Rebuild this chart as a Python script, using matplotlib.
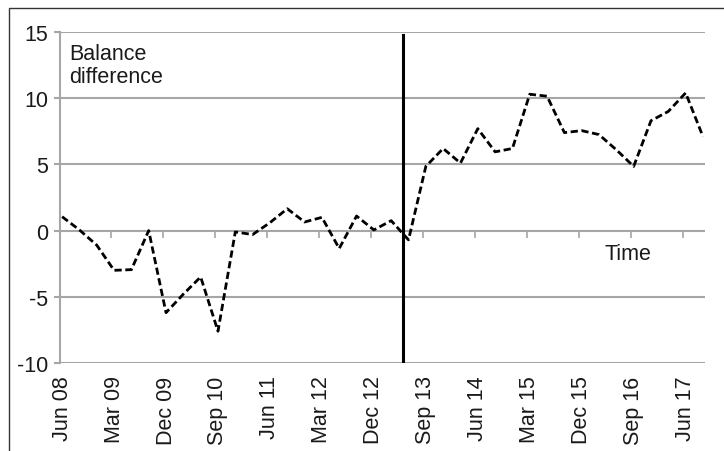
import matplotlib.pyplot as plt
from matplotlib.patches import Rectangle

plt.rcParams['font.family'] = ['Liberation Sans', 'DejaVu Sans']

# quarterly series, Jun 08 .. Sep 17
values = [1.05, 0.05, -1.1, -3.0, -2.95, 0.0, -6.2, -4.8, -3.5, -7.6,
          -0.1, -0.3, 0.6, 1.65, 0.65, 1.0, -1.35, 1.1, 0.05, 0.75,
          -0.7, 4.85, 6.2, 5.1, 7.7, 5.95, 6.2, 10.3, 10.15, 7.4,
          7.55, 7.25, 6.1, 4.85, 8.3, 9.0, 10.4, 7.1]
tick_labels = ["Jun 08", "Mar 09", "Dec 09", "Sep 10", "Jun 11", "Mar 12", "Dec 12",
               "Sep 13", "Jun 14", "Mar 15", "Dec 15", "Sep 16", "Jun 17"]
yticks = [-10, -5, 0, 5, 10, 15]
break_pos = 19.7  # vertical marker between Mar 13 and Jun 13

grid_col = "#a6a6a6"
text_col = "#1a1a1a"

fig = plt.figure(figsize=(7.24, 4.52), dpi=100)
ax = fig.add_axes([0.0829, 0.1947, 0.8909, 0.7323])

# outer frame
fig.patches.append(Rectangle((9 / 724, -0.1), 1.2, 1.1 - 9 / 452, transform=fig.transFigure,
                             fill=False, edgecolor="#333333", linewidth=1.0))

x = list(range(len(values)))
ax.set_xlim(-0.12, len(values) - 1 + 0.12)
ax.set_ylim(-10, 15)

# horizontal gridlines
for yv in yticks:
    ax.axhline(yv, color=grid_col, linewidth=1.5, zorder=1)

# small ticks on the zero line
minor = [3 * k - 0.15 for k in range(1, 13)]
ax.vlines(minor, -0.55, 0, color=grid_col, linewidth=1.2, zorder=1)

ax.plot(x, values, color="black", linewidth=2.0, linestyle=(0, (2.6, 1.3)), zorder=3)
ax.plot([break_pos, break_pos], [-10, 14.8], color="black", linewidth=2.2, zorder=4)

for s in ["top", "right", "bottom"]:
    ax.spines[s].set_visible(False)
ax.spines["left"].set_color(grid_col)
ax.spines["left"].set_linewidth(1.5)

ax.set_yticks(yticks, [str(v) for v in yticks])
ax.tick_params(axis="y", length=4.5, width=1.5, color=grid_col, pad=4, labelsize=15.5,
               labelcolor=text_col)
ax.set_xticks(list(range(0, 37, 3)), tick_labels, rotation=90)
ax.tick_params(axis="x", length=0, pad=9, labelsize=15.5, labelcolor=text_col)

ax.text(0.4, 14.2, "Balance\ndifference", fontsize=15.5, va="top", ha="left",
        linespacing=1.15, color=text_col)
ax.text(31.3, -1.7, "Time", fontsize=15.5, va="center", ha="left", color=text_col)

fig.savefig("out.png", dpi=100)
